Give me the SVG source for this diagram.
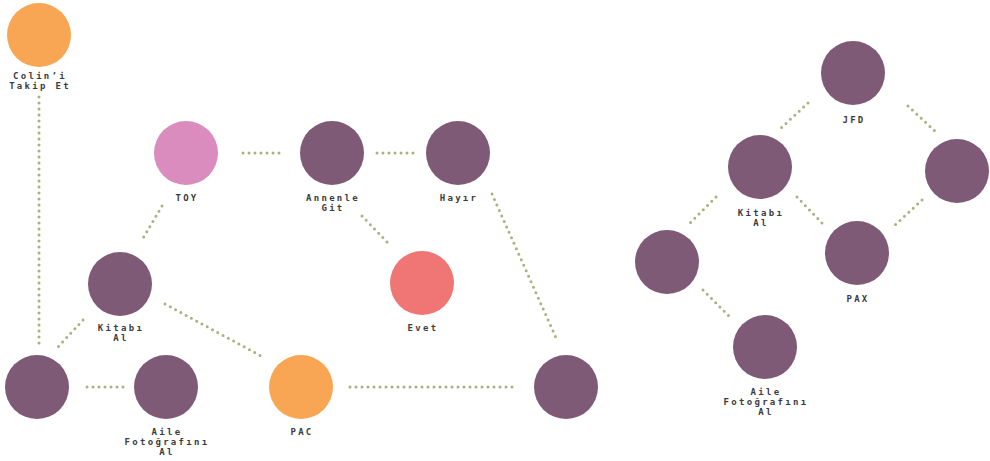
<svg xmlns="http://www.w3.org/2000/svg" width="990" height="461" viewBox="0 0 990 461">
  <style>
    .n { stroke: none; }
    .purple { fill: #7e5a76; }
    .pink { fill: #da8cbe; }
    .orange { fill: #f8a653; }
    .red { fill: #f07575; }
    .lbl { font-family: "DejaVu Sans Mono", "Liberation Mono", monospace; font-size: 9px; font-weight: bold; letter-spacing: 2.3px; fill: #3c3c3c; text-anchor: middle; }
    .edge { stroke: #a9b17c; stroke-width: 3; stroke-linecap: round; stroke-dasharray: 0 6; fill: none; }
  </style>
  <rect width="990" height="461" fill="#ffffff"/>

  <g id="connectors">
    <line class="edge" x1="39" y1="97" x2="39" y2="346"/>
    <line class="edge" x1="243" y1="153" x2="280" y2="153"/>
    <line class="edge" x1="377" y1="153" x2="414" y2="153"/>
    <line class="edge" x1="492" y1="194" x2="557" y2="340"/>
    <line class="edge" x1="362" y1="216" x2="389" y2="244"/>
    <line class="edge" x1="162" y1="206" x2="142" y2="240"/>
    <line class="edge" x1="83" y1="320" x2="57" y2="348"/>
    <line class="edge" x1="165" y1="304" x2="263" y2="357"/>
    <line class="edge" x1="87" y1="387" x2="125" y2="387"/>
    <line class="edge" x1="350" y1="387" x2="513" y2="387"/>
    <line class="edge" x1="808" y1="103" x2="781" y2="128"/>
    <line class="edge" x1="908" y1="106" x2="936" y2="132"/>
    <line class="edge" x1="716" y1="197" x2="688" y2="225"/>
    <line class="edge" x1="797" y1="197" x2="822" y2="223"/>
    <line class="edge" x1="922" y1="200" x2="895" y2="225"/>
    <line class="edge" x1="703" y1="290" x2="730" y2="317"/>
  </g>

  <g id="colin">
    <circle class="n orange" cx="39" cy="35" r="32"/>
    <text class="lbl" x="40" y="79">Colin’i</text>
    <text class="lbl" x="40" y="89">Takip Et</text>
  </g>
  <g id="toy">
    <circle class="n pink" cx="186" cy="153" r="32"/>
    <text class="lbl" x="187" y="201">TOY</text>
  </g>
  <g id="annenle-git">
    <circle class="n purple" cx="332" cy="153" r="32"/>
    <text class="lbl" x="333" y="201">Annenle</text>
    <text class="lbl" x="333" y="211">Git</text>
  </g>
  <g id="hayir">
    <circle class="n purple" cx="458" cy="153" r="32"/>
    <text class="lbl" x="459" y="201">Hayır</text>
  </g>
  <g id="kitabi-al-left">
    <circle class="n purple" cx="120" cy="284" r="32"/>
    <text class="lbl" x="121" y="331">Kitabı</text>
    <text class="lbl" x="121" y="341">Al</text>
  </g>
  <g id="evet">
    <circle class="n red" cx="422" cy="283" r="32"/>
    <text class="lbl" x="423" y="331">Evet</text>
  </g>
  <g id="bottom-left">
    <circle class="n purple" cx="37" cy="387" r="32"/>
  </g>
  <g id="aile-left">
    <circle class="n purple" cx="166" cy="387" r="32"/>
    <text class="lbl" x="167" y="435">Aile</text>
    <text class="lbl" x="167" y="445">Fotoğrafını</text>
    <text class="lbl" x="167" y="455">Al</text>
  </g>
  <g id="pac">
    <circle class="n orange" cx="301" cy="387" r="32"/>
    <text class="lbl" x="302" y="435">PAC</text>
  </g>
  <g id="bottom-right">
    <circle class="n purple" cx="566" cy="387" r="32"/>
  </g>

  <g id="jfd">
    <circle class="n purple" cx="853" cy="73" r="32"/>
    <text class="lbl" x="854" y="123">JFD</text>
  </g>
  <g id="right">
    <circle class="n purple" cx="957" cy="171" r="32"/>
  </g>
  <g id="kitabi-al-right">
    <circle class="n purple" cx="760" cy="167" r="32"/>
    <text class="lbl" x="761" y="216">Kitabı</text>
    <text class="lbl" x="761" y="226">Al</text>
  </g>
  <g id="middle-left">
    <circle class="n purple" cx="667" cy="262" r="32"/>
  </g>
  <g id="pax">
    <circle class="n purple" cx="857" cy="253" r="32"/>
    <text class="lbl" x="858" y="302">PAX</text>
  </g>
  <g id="aile-right">
    <circle class="n purple" cx="765" cy="347" r="32"/>
    <text class="lbl" x="766" y="395">Aile</text>
    <text class="lbl" x="766" y="405">Fotoğrafını</text>
    <text class="lbl" x="766" y="415">Al</text>
  </g>
</svg>
